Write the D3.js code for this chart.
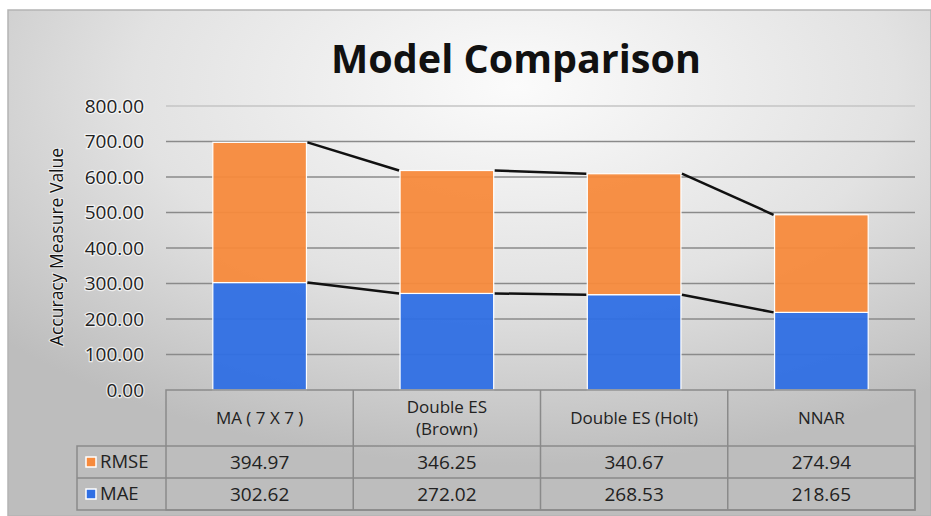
<!DOCTYPE html>
<html>
<head>
<meta charset="utf-8">
<script src="https://cdn.jsdelivr.net/npm/d3@7"></script>
<style>
  body { margin: 0; background: #fff; }
  text { font-family: "Open Sans", "Noto Sans", sans-serif; }
</style>
</head>
<body>
<div id="chart"></div>
<script>
var width = 931,
    height = 516,
    plot = {left: 166, right: 915, top: 106, bottom: 390},
    table = {left: 77, header: 446, row1: 478, row2: 510};

var categories = ["MA ( 7 X 7 )", "Double ES\n(Brown)", "Double ES (Holt)", "NNAR"];
var seriesNames = ["MAE", "RMSE"];
var maeValues = [302.62, 272.02, 268.53, 218.65];
var rmseValues = [394.97, 346.25, 340.67, 274.94];
var yTickValues = [0, 100, 200, 300, 400, 500, 600, 700, 800];

var color = d3.scaleOrdinal()
  .domain(seriesNames)
  .range(["#2f6fe4", "#f78a3c"]);

var svg = d3.select("#chart").append("svg")
  .attr("width", width)
  .attr("height", height);

// background with the soft radial fill
var grad = svg.append("defs").append("radialGradient")
  .attr("id", "bg")
  .attr("cx", "55%").attr("cy", "15%").attr("r", "75%");
grad.append("stop").attr("offset", "0%").attr("stop-color", "#fbfbfb");
grad.append("stop").attr("offset", "55%").attr("stop-color", "#e2e2e2");
grad.append("stop").attr("offset", "100%").attr("stop-color", "#bdbdbd");

svg.append("rect")
  .attr("x", 8).attr("y", 10)
  .attr("width", width - 8).attr("height", height - 10)
  .style("fill", "url(#bg)")
  .style("stroke", "#b4b4b4")
  .style("stroke-width", 1.5);

var x = d3.scaleBand()
  .domain(categories)
  .range([plot.left, plot.right])
  .paddingInner(0.5)
  .paddingOuter(0.25);

var y = d3.scaleLinear()
  .domain([0, 800])
  .range([plot.bottom, plot.top]);

// title
var title = svg.append("text")
  .attr("x", 516)
  .attr("y", 73)
  .style("text-anchor", "middle")
  .style("font-weight", "bold")
  .style("font-size", "38px")
  .style("fill", "#111")
  .text("Model Comparison");
var tw = title.node().getComputedTextLength();
title.style("font-size", (38 * 370 / tw) + "px");

// gridlines
svg.append("g")
  .selectAll("line")
  .data(yTickValues.filter(function(d){ return d > 0; }))
  .enter()
  .append("line")
  .attr("x1", plot.left).attr("x2", plot.right)
  .attr("y1", function(d){ return y(d); })
  .attr("y2", function(d){ return y(d); })
  .style("stroke", function(d){ return d === 800 ? "#c4c4c4" : "#8a8a8a"; })
  .style("stroke-width", 1.5);

// y tick labels
svg.append("g")
  .selectAll("text")
  .data(yTickValues)
  .enter()
  .append("text")
  .attr("x", 144)
  .attr("y", function(d){ return y(d); })
  .attr("dy", "0.35em")
  .style("text-anchor", "end")
  .style("font-size", "19px")
  .style("fill", "#222")
  .style("stroke", "#fff")
  .style("stroke-width", 2.5)
  .style("stroke-opacity", 0.7)
  .style("paint-order", "stroke")
  .text(function(d){ return d3.format(".2f")(d); });

// y axis title
svg.append("text")
  .attr("transform", "translate(63," + 247 + ") rotate(-90)")
  .style("text-anchor", "middle")
  .style("font-size", "17.5px")
  .style("fill", "#111")
  .style("stroke", "#fff")
  .style("stroke-width", 2)
  .style("stroke-opacity", 0.6)
  .style("paint-order", "stroke")
  .text("Accuracy Measure Value");

// stacked bars
var rows = categories.map(function(c, i){
  return {cat: c, MAE: maeValues[i], RMSE: rmseValues[i]};
});
var stacked = d3.stack().keys(seriesNames)(rows);

var layers = svg.append("g")
  .selectAll("g")
  .data(stacked)
  .enter()
  .append("g")
  .style("fill", function(d){ return color(d.key); });

layers.selectAll("rect")
  .data(function(d){ return d; })
  .enter()
  .append("rect")
  .attr("x", function(d){ return x(d.data.cat); })
  .attr("y", function(d){ return y(d[1]); })
  .attr("width", x.bandwidth())
  .attr("height", function(d){ return y(d[0]) - y(d[1]); })
  .style("fill-opacity", 0.95)
  .style("stroke", "#fff")
  .style("stroke-width", 1.2);

// series lines between the bar tops
stacked.forEach(function(layer){
  var segs = d3.pairs(layer);
  svg.append("g")
    .selectAll("line")
    .data(segs)
    .enter()
    .append("line")
    .attr("x1", function(d){ return x(d[0].data.cat) + x.bandwidth() + 1; })
    .attr("y1", function(d){ return y(d[0][1]); })
    .attr("x2", function(d){ return x(d[1].data.cat) - 1; })
    .attr("y2", function(d){ return y(d[1][1]); })
    .style("stroke", "#111")
    .style("stroke-width", 2.5);
});

// data table
var tableG = svg.append("g");
var lineStyle = function(sel){
  sel.style("stroke", "#8a8a8a").style("stroke-width", 1.5).style("fill", "none");
};

tableG.append("rect")
  .attr("x", plot.left).attr("y", plot.bottom)
  .attr("width", plot.right - plot.left).attr("height", table.row2 - plot.bottom)
  .call(lineStyle);
tableG.append("rect")
  .attr("x", table.left).attr("y", table.header)
  .attr("width", plot.right - table.left).attr("height", table.row2 - table.header)
  .call(lineStyle);
tableG.append("line")
  .attr("x1", table.left).attr("x2", plot.right)
  .attr("y1", table.row1).attr("y2", table.row1)
  .call(lineStyle);

// column boundaries sit halfway between bars
var colEdge = function(d){ return x(d) - (x.step() - x.bandwidth()) / 2; };
tableG.selectAll(".col")
  .data(categories.slice(1))
  .enter()
  .append("line")
  .attr("class", "col")
  .attr("x1", colEdge)
  .attr("x2", colEdge)
  .attr("y1", plot.bottom).attr("y2", table.row2)
  .call(lineStyle);

// header labels
tableG.selectAll(".hdr")
  .data(categories)
  .enter()
  .append("text")
  .attr("class", "hdr")
  .attr("x", function(d){ return x(d) + x.bandwidth() / 2; })
  .attr("y", 418)
  .style("text-anchor", "middle")
  .style("font-size", "17px")
  .style("fill", "#222")
  .each(function(d){
    var lines = d.split("\n");
    var t = d3.select(this);
    lines.forEach(function(l, i){
      t.append("tspan")
        .attr("x", x(d) + x.bandwidth() / 2)
        .attr("dy", i === 0 ? (0.35 - (lines.length - 1) * 0.66) + "em" : "1.32em")
        .text(l);
    });
  });

// value rows, RMSE on top
var tableRows = [
  {name: "RMSE", values: rmseValues, yc: (table.header + table.row1) / 2},
  {name: "MAE", values: maeValues, yc: (table.row1 + table.row2) / 2}
];

tableRows.forEach(function(r){
  tableG.append("rect")
    .attr("x", 86).attr("y", r.yc - 5)
    .attr("width", 10).attr("height", 10)
    .style("fill", color(r.name))
    .style("stroke", "#fff")
    .style("stroke-width", 1.5);
  tableG.append("text")
    .attr("x", 100).attr("y", r.yc)
    .attr("dy", "0.35em")
    .style("font-size", "18.5px")
    .style("fill", "#222")
    .text(r.name);
  tableG.selectAll(null)
    .data(r.values)
    .enter()
    .append("text")
    .attr("x", function(d, i){ return x(categories[i]) + x.bandwidth() / 2; })
    .attr("y", r.yc)
    .attr("dy", "0.35em")
    .style("text-anchor", "middle")
    .style("font-size", "19px")
    .style("fill", "#222")
    .text(function(d){ return d3.format(".2f")(d); });
});
</script>
</body>
</html>
